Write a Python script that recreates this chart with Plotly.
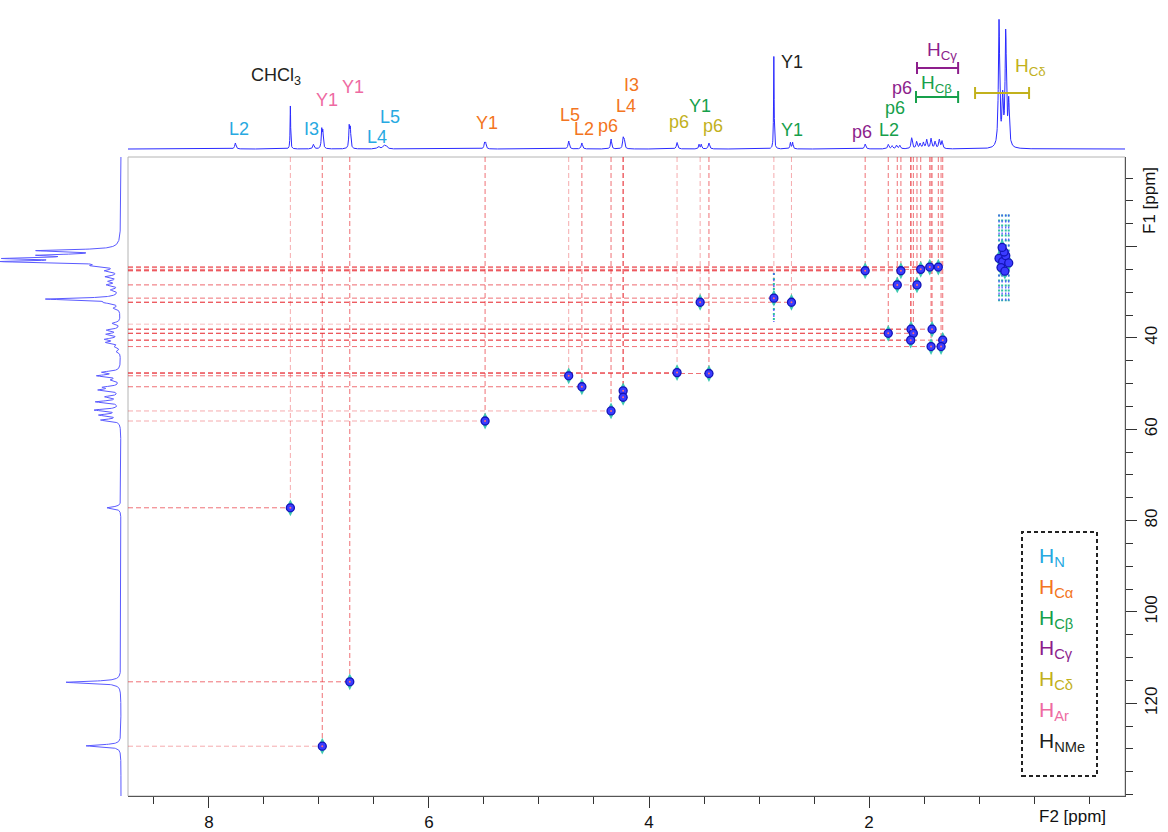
import numpy as np
import plotly.graph_objects as go

W, H = 1168, 832

# ---------------------------------------------------------------------------
# 1H projection (F2, top trace): shift [ppm], intensity, half-width [ppm]
h1_shift = [7.76, 7.26, 7.05, 6.975, 6.965, 6.725, 6.715, 6.46, 6.41, 6.39,
            5.495, 5.485, 4.73, 4.61, 4.345, 4.235, 4.225, 3.745, 3.545, 3.525,
            3.455, 2.865, 2.715, 2.695, 2.035, 1.825, 1.79, 1.75, 1.72, 1.612,
            1.567, 1.536, 1.506, 1.476, 1.436, 1.40, 1.361, 1.336,
            0.818, 0.785, 0.757, 0.73]
h1_height = [6, 43, 4.5, 18, 16, 21, 19, 2.5, 3, 3,
             5.5, 5.5, 8, 6, 10, 10, 8, 6.5, 4.5, 4.5,
             6, 93, 6.5, 6.5, 5, 4.5, 3, 3.5, 3.5, 11,
             7, 5, 6, 9, 10, 7, 9, 7.5,
             126, 46, 114, 44]
h1_hwhm = [0.007, 0.003, 0.007, 0.005, 0.005, 0.005, 0.005, 0.012, 0.012, 0.012,
           0.006, 0.006, 0.007, 0.007, 0.006, 0.006, 0.006, 0.007, 0.005, 0.005,
           0.007, 0.003, 0.005, 0.005, 0.007, 0.007, 0.007, 0.007, 0.007, 0.007,
           0.007, 0.007, 0.007, 0.007, 0.007, 0.007, 0.007, 0.007,
           0.007, 0.007, 0.007, 0.007]

# 13C projection (F1, left trace): shift [ppm], intensity
c13_shift = [20.9, 21.9, 22.6, 23.3, 24.2, 25.3, 26.6, 27.6, 28.4, 29.5,
             31.5, 32.3, 33.5, 36.8, 38.3, 39.2, 40.3, 41.0, 41.9, 43.0,
             47.5, 48.3, 49.2, 50.8, 51.4, 52.9, 54.0, 55.8, 56.9, 58.0,
             77.2, 115.4, 129.3]
c13_height = [78, 66, 98, 106, 19, 12, 13, 10, 12, 8,
              74, 10, 6, 8, 13, 13, 14, 13, 5, 4,
              17, 22, 8, 15, 20, 14, 24, 25, 20, 19,
              14, 55, 35]
c13_hwhm = 0.25

# HSQC cross peaks: 1H shift, 13C shift [ppm]
xpk_h = [7.26, 6.97, 6.72, 5.49, 4.73, 4.61, 4.345, 4.235, 4.235, 3.745,
         3.455, 3.535, 2.865, 2.705, 2.035, 1.71, 1.743, 1.564, 1.53, 1.448,
         1.37, 1.825, 1.618, 1.597, 1.427, 1.621, 1.33, 1.436, 1.345]
xpk_c = [77.2, 129.4, 115.3, 58.2, 48.3, 50.7, 56.0, 51.6, 53.0, 47.6,
         47.8, 32.2, 31.3, 32.2, 25.3, 25.3, 28.4, 28.4, 25.0, 24.5,
         24.5, 39.0, 38.1, 39.0, 38.1, 40.5, 40.5, 41.9, 41.9]
# cross peaks whose horizontal guide to F1 is not drawn
no_hline = [7, 8]

# extra F1 guide with no resolved contour
guide_h = [3.455]
guide_c = [37.0]

# Leu methyl (H-delta) contour cluster and its t1 streaks
hd_h = [0.818, 0.785, 0.757, 0.73, 0.80, 0.772, 0.79, 0.765]
hd_c = [22.6, 23.3, 22.0, 23.6, 24.6, 21.2, 20.2, 25.4]
hd_streak_h = [0.818, 0.79, 0.757, 0.73]
hd_streak_c = [13.0, 32.0]
nme_streak_h = [2.865]
nme_streak_c = [25.8, 36.5]

# assignments in the 1H trace: (text, group)
top_labels = [("CHCl<sub>3</sub>", "NMe"),
              ("L2", "N"), ("I3", "N"), ("Y1", "Ar"), ("Y1", "Ar"),
              ("L4", "N"), ("L5", "N"), ("Y1", "Ca"),
              ("L5", "Ca"), ("L2", "Ca"), ("p6", "Ca"), ("L4", "Ca"), ("I3", "Ca"),
              ("p6", "Cd"), ("Y1", "Cb"), ("p6", "Cd"),
              ("Y1", "NMe"), ("Y1", "Cb"),
              ("p6", "Cg"), ("L2", "Cb"), ("p6", "Cb"), ("p6", "Cg")]

# multiplet ranges [ppm] marked with bars
bar_groups = [("Cg", "H<sub>Cγ</sub>", 1.564, 1.19),
              ("Cb", "H<sub>Cβ</sub>", 1.573, 1.19),
              ("Cd", "H<sub>Cδ</sub>", 1.036, 0.545)]

legend_items = [("N", "H<sub>N</sub>"), ("Ca", "H<sub>Cα</sub>"),
                ("Cb", "H<sub>Cβ</sub>"), ("Cg", "H<sub>Cγ</sub>"),
                ("Cd", "H<sub>Cδ</sub>"), ("Ar", "H<sub>Ar</sub>"),
                ("NMe", "H<sub>NMe</sub>")]

x_ticks = [2, 4, 6, 8]
y_ticks = [20, 40, 60, 80, 100, 120]
y_ticktext = ["", "40", "60", "80", "100", "120"]

# ---------------------------------------------------------------------------
# styling / layout
colors = {"N": "#27a9e1", "Ca": "#f37521", "Cb": "#16a04b", "Cg": "#8d1e8c",
          "Cd": "#c2b11c", "Ar": "#ee6aa2", "NMe": "#231f20"}
FONT = "Liberation Sans, Arial, Helvetica, sans-serif"

X_RANGE = [8.736, -0.327]
Y_RANGE = [140.3, 0.4]


def px(xp):
    return xp / W


def py(yp):
    return 1 - yp / H


main_xdom = [px(128), px(1125)]
main_ydom = [py(796), py(157)]

label_xy = [(276, 77), (239, 129), (311, 129), (327, 100), (353, 87),
            (377, 137), (390, 117), (487, 123),
            (570, 115), (584, 129), (608, 126), (626, 106), (631, 85),
            (679, 122), (700, 106), (713, 126),
            (792, 62), (792, 130),
            (862, 132), (889, 130), (895, 108), (902, 88)]
bar_label_xy = [(942, 51), (936, 84), (1030, 67)]
bar_y = [68, 97, 93]


def lorentz(grid, shifts, heights, widths):
    out = np.zeros_like(grid)
    for s, h, w in zip(shifts, heights, widths):
        out += h * w ** 2 / ((grid - s) ** 2 + w ** 2)
    return out


fig = go.Figure()

# 1H projection
g_h = np.linspace(X_RANGE[0], X_RANGE[1], 6000)
fig.add_trace(go.Scatter(x=g_h, y=lorentz(g_h, h1_shift, h1_height, h1_hwhm),
                         xaxis="x2", yaxis="y2", mode="lines",
                         line=dict(color="#2a2aff", width=1), hoverinfo="skip"))

# 13C projection
g_c = np.linspace(Y_RANGE[1], Y_RANGE[0], 4000)
fig.add_trace(go.Scatter(x=lorentz(g_c, c13_shift, c13_height, [c13_hwhm] * len(c13_shift)),
                         y=g_c, xaxis="x3", yaxis="y", mode="lines",
                         line=dict(color="#5a5aff", width=1), hoverinfo="skip"))

# guide lines
shapes = []
light_h = {28.4, 41.9, 56.0, 58.2, 129.4}
light_v = {7.26, 4.73, 3.745, 3.535, 2.865, 2.705}
for i, (hh, cc) in enumerate(zip(xpk_h, xpk_c)):
    op = 0.38 if hh in light_v else 0.65
    shapes.append(dict(type="line", xref="x", yref="y", x0=hh, x1=hh,
                       y0=Y_RANGE[1], y1=cc, layer="below",
                       line=dict(color="#e8262e", width=1, dash="5px,3px"), opacity=op))
    if i in no_hline:
        continue
    op = 0.38 if cc in light_h else 0.65
    shapes.append(dict(type="line", xref="x", yref="y", x0=X_RANGE[0], x1=hh,
                       y0=cc, y1=cc, layer="below",
                       line=dict(color="#e8262e", width=1, dash="5px,3px"), opacity=op))
for hh, cc in zip(guide_h, guide_c):
    shapes.append(dict(type="line", xref="x", yref="y", x0=X_RANGE[0], x1=hh,
                       y0=cc, y1=cc, layer="below",
                       line=dict(color="#e8262e", width=1, dash="5px,3px"), opacity=0.3))

# t1 streaks
for sh in hd_streak_h + nme_streak_h:
    cr = hd_streak_c if sh in hd_streak_h else nme_streak_c
    fig.add_trace(go.Scatter(x=[sh, sh], y=cr, xaxis="x", yaxis="y", mode="lines",
                             line=dict(color="#2fbfa6", width=2, dash="2px,3px"),
                             hoverinfo="skip"))
    fig.add_trace(go.Scatter(x=[sh, sh], y=cr, xaxis="x", yaxis="y", mode="lines",
                             line=dict(color="#4a4aff", width=1.2, dash="2px,4px"),
                             hoverinfo="skip"))

# contours (cross peaks)
all_h = xpk_h + hd_h
all_c = xpk_c + hd_c
fig.add_trace(go.Scatter(x=all_h, y=all_c, mode="markers", hoverinfo="skip",
                         marker=dict(symbol="diamond-tall", size=12, color="#3cc8b0",
                                     line=dict(width=0))))
fig.add_trace(go.Scatter(x=all_h, y=all_c, mode="markers", hoverinfo="skip",
                         marker=dict(symbol="circle", size=8, color="#3b3bff",
                                     line=dict(width=1.3, color="#1414b8"))))
fig.add_trace(go.Scatter(x=xpk_h, y=xpk_c, mode="markers", hoverinfo="skip",
                         marker=dict(symbol="circle", size=2, color="#ff7070")))

# frame of the 2D panel
shapes.append(dict(type="rect", xref="paper", yref="paper",
                   x0=main_xdom[0], x1=main_xdom[1], y0=main_ydom[0], y1=main_ydom[1],
                   line=dict(color="#b4b4b4", width=1), layer="below"))

annotations = []
for (txt, grp), (lx, ly) in zip(top_labels, label_xy):
    annotations.append(dict(text=txt, x=px(lx), y=py(ly), xref="paper", yref="paper",
                            showarrow=False, xanchor="center", yanchor="middle",
                            font=dict(family=FONT, size=18, color=colors[grp])))

cap = 6 / H
for (grp, txt, x0, x1), (lx, ly), by in zip(bar_groups, bar_label_xy, bar_y):
    c = colors[grp]
    annotations.append(dict(text=txt, x=px(lx), y=py(ly), xref="paper", yref="paper",
                            showarrow=False, xanchor="center", yanchor="middle",
                            font=dict(family=FONT, size=19, color=c)))
    shapes.append(dict(type="line", xref="x", yref="paper", x0=x0, x1=x1,
                       y0=py(by), y1=py(by), line=dict(color=c, width=2)))
    for xe in (x0, x1):
        shapes.append(dict(type="line", xref="x", yref="paper", x0=xe, x1=xe,
                           y0=py(by) - cap, y1=py(by) + cap, line=dict(color=c, width=2)))

# legend box
shapes.append(dict(type="rect", xref="paper", yref="paper",
                   x0=px(1022), x1=px(1097), y0=py(776), y1=py(532),
                   line=dict(color="#222222", width=2, dash="4px,3px")))
for i, (grp, txt) in enumerate(legend_items):
    annotations.append(dict(text=txt, x=px(1037), y=py(557 + 30.8 * i),
                            xref="paper", yref="paper", showarrow=False,
                            xanchor="left", yanchor="middle",
                            font=dict(family=FONT, size=21, color=colors[grp])))

# axis titles
annotations.append(dict(text="F2 [ppm]", x=px(1072), y=py(816), xref="paper", yref="paper",
                        showarrow=False, xanchor="center", yanchor="middle",
                        font=dict(family=FONT, size=17, color="#111111")))
annotations.append(dict(text="F1 [ppm]", x=px(1150), y=py(201), xref="paper", yref="paper",
                        showarrow=False, xanchor="center", yanchor="middle", textangle=-90,
                        font=dict(family=FONT, size=17, color="#111111")))

fig.update_layout(
    width=W, height=H, margin=dict(l=0, r=0, t=0, b=0),
    paper_bgcolor="white", plot_bgcolor="white", showlegend=False,
    font=dict(family=FONT, color="#111111"),
    xaxis=dict(domain=main_xdom, range=X_RANGE, anchor="y", showgrid=False, zeroline=False,
               showline=True, linecolor="#555555", linewidth=1,
               ticks="outside", tickvals=x_ticks, ticklen=11, tickcolor="#333333",
               tickfont=dict(size=17, family=FONT),
               minor=dict(tick0=0, dtick=0.5, ticks="outside", ticklen=7,
                          tickcolor="#333333", showgrid=False)),
    yaxis=dict(domain=main_ydom, range=Y_RANGE, anchor="x", side="right", showgrid=False,
               zeroline=False, showline=True, linecolor="#555555", linewidth=1,
               ticks="outside", tickvals=y_ticks, ticktext=y_ticktext, ticklen=11,
               tickcolor="#333333", tickangle=-90, tickfont=dict(size=17, family=FONT),
               minor=dict(tick0=0, dtick=5, ticks="outside", ticklen=7,
                          tickcolor="#333333", showgrid=False)),
    xaxis2=dict(domain=main_xdom, range=X_RANGE, anchor="y2", visible=False),
    yaxis2=dict(domain=[py(157), 1], range=[-8, 149], anchor="x2", visible=False),
    xaxis3=dict(domain=[0, px(128)], range=[121, -7], anchor="y", visible=False),
    shapes=shapes, annotations=annotations,
)

fig.write_html("out.html")
